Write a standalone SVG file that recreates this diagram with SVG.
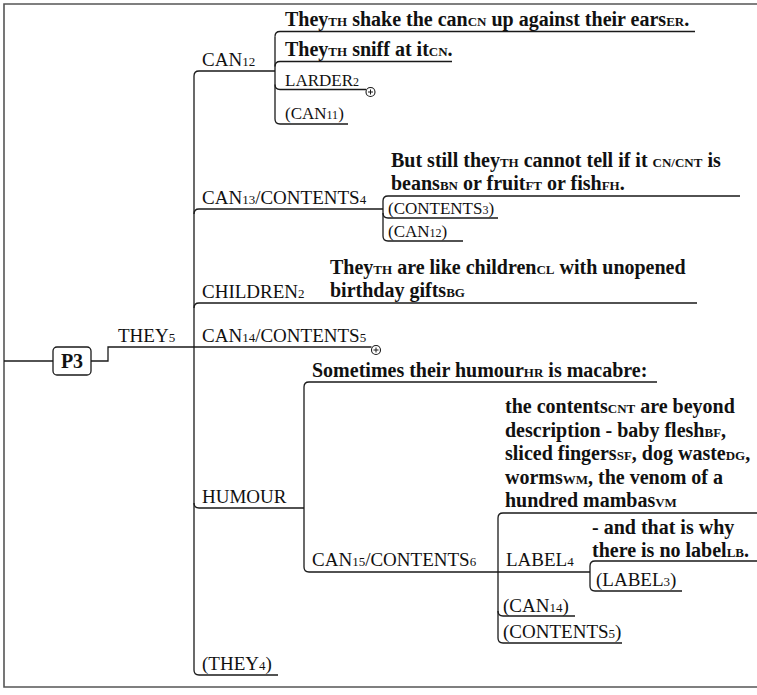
<svg xmlns="http://www.w3.org/2000/svg" width="757" height="695" viewBox="0 0 757 695">
<style>
.ln{fill:none;stroke:#1a1a1a;stroke-width:1.3}
.fr{fill:none;stroke:#555;stroke-width:1.6}
.lb{font-family:"Liberation Serif","Times New Roman",serif;font-size:19px;fill:#111}
.sm{font-size:17px}
.st{font-family:"Liberation Serif","Times New Roman",serif;font-size:20px;font-weight:bold;fill:#111}
.s{font-size:13px}
.s2{font-size:12px}
.pl{fill:#fff;stroke:#1a1a1a;stroke-width:1.1}
</style>
<rect width="757" height="695" fill="#fff"/>
<path class="fr" d="M757,4 H4 V687 H757"/>
<g id="connectors">
<path class="ln" d="M4,361 H53"/>
<path class="ln" d="M91,361 H108 V347 H194"/>
<path class="ln" d="M194,76 V670"/>
<path class="ln" d="M194,76 Q194,71 199,71 H275"/>
<path class="ln" d="M194,214 Q194,209 199,209 H383"/>
<path class="ln" d="M194,308 Q194,303 199,303 H697"/>
<path class="ln" d="M194,347 H371.5"/>
<path class="ln" d="M194,503 Q194,508 199,508 H304"/>
<path class="ln" d="M194,670 Q194,675 199,675 H278"/>
<path class="ln" d="M275,36.5 V119"/>
<path class="ln" d="M275,36.5 Q275,31.5 280,31.5 H695"/>
<path class="ln" d="M275,66.5 Q275,61.5 280,61.5 H452"/>
<path class="ln" d="M275,84.5 Q275,89.5 280,89.5 H366"/>
<path class="ln" d="M275,119 Q275,124 280,124 H348"/>
<path class="ln" d="M383,201 V236"/>
<path class="ln" d="M383,201 Q383,196 388,196 H740"/>
<path class="ln" d="M383,213 Q383,218 388,218 H498"/>
<path class="ln" d="M383,236 Q383,241 388,241 H463"/>
<path class="ln" d="M304,387 V567"/>
<path class="ln" d="M304,387 Q304,382 309,382 H657"/>
<path class="ln" d="M304,567 Q304,572 309,572 H590"/>
<path class="ln" d="M498,518 V638"/>
<path class="ln" d="M498,518 Q498,513 503,513 H757"/>
<path class="ln" d="M498,611 Q498,616 503,616 H575"/>
<path class="ln" d="M498,638 Q498,643 503,643 H622"/>
<path class="ln" d="M590,566 V586"/>
<path class="ln" d="M590,566 Q590,561 595,561 H757"/>
<path class="ln" d="M590,586 Q590,591 595,591 H682"/>
<g id="plus-larder">
<circle class="pl" cx="370.5" cy="92" r="4.5"/>
<path class="ln" d="M368,92 H373 M370.5,89.5 V94.5" style="stroke-width:1"/>
</g>
<g id="plus-can14">
<circle class="pl" cx="376" cy="350" r="4.5"/>
<path class="ln" d="M373.5,350 H378.5 M376,347.5 V352.5" style="stroke-width:1"/>
</g>
</g>
<g id="p3">
<rect x="53" y="347" width="38" height="28" rx="4" fill="#fff" stroke="#1a1a1a" stroke-width="1.3"/>
<text class="st" x="72" y="368" text-anchor="middle">P3</text>
</g>
<g id="they5"><text class="lb" x="118" y="342">THEY<tspan class="s">5</tspan></text></g>
<g id="can12"><text class="lb" x="202" y="66">CAN<tspan class="s">12</tspan></text></g>
<g id="s-shake"><text class="st" x="285" y="26">They<tspan class="s">TH</tspan> shake the can<tspan class="s">CN</tspan> up against their ears<tspan class="s">ER</tspan>.</text></g>
<g id="s-sniff"><text class="st" x="285" y="56">They<tspan class="s">TH</tspan> sniff at it<tspan class="s">CN</tspan>.</text></g>
<g id="larder2"><text class="lb sm" x="285" y="86">LARDER<tspan class="s2">2</tspan></text></g>
<g id="can11"><text class="lb sm" x="285" y="119">(CAN<tspan class="s2">11</tspan>)</text></g>
<g id="can13"><text class="lb" x="202" y="204">CAN<tspan class="s">13</tspan>/CONTENTS<tspan class="s">4</tspan></text></g>
<g id="s-beans">
<text class="st" x="391" y="167">But still they<tspan class="s">TH</tspan> cannot tell if it <tspan class="s">CN/CNT</tspan> is</text>
<text class="st" x="391" y="190">beans<tspan class="s">BN</tspan> or fruit<tspan class="s">FT</tspan> or fish<tspan class="s">FH</tspan>.</text>
</g>
<g id="contents3"><text class="lb sm" x="388" y="214">(CONTENTS<tspan class="s2">3</tspan>)</text></g>
<g id="can12b"><text class="lb sm" x="388" y="237">(CAN<tspan class="s2">12</tspan>)</text></g>
<g id="children2"><text class="lb" x="202" y="298">CHILDREN<tspan class="s">2</tspan></text></g>
<g id="s-children">
<text class="st" x="330" y="274">They<tspan class="s">TH</tspan> are like children<tspan class="s">CL</tspan> with unopened</text>
<text class="st" x="330" y="297">birthday gifts<tspan class="s">BG</tspan></text>
</g>
<g id="can14"><text class="lb" x="202" y="342">CAN<tspan class="s">14</tspan>/CONTENTS<tspan class="s">5</tspan></text></g>
<g id="humour"><text class="lb" x="202" y="503">HUMOUR</text></g>
<g id="s-macabre"><text class="st" x="312" y="377">Sometimes their humour<tspan class="s">HR</tspan> is macabre:</text></g>
<g id="can15"><text class="lb" x="312" y="566">CAN<tspan class="s">15</tspan>/CONTENTS<tspan class="s">6</tspan></text></g>
<g id="s-contents">
<text class="st" x="505" y="413">the contents<tspan class="s">CNT</tspan> are beyond</text>
<text class="st" x="505" y="436.5">description - baby flesh<tspan class="s">BF</tspan>,</text>
<text class="st" x="505" y="460">sliced fingers<tspan class="s">SF</tspan>, dog waste<tspan class="s">DG</tspan>,</text>
<text class="st" x="505" y="483.5">worms<tspan class="s">WM</tspan>, the venom of a</text>
<text class="st" x="505" y="507">hundred mambas<tspan class="s">VM</tspan></text>
</g>
<g id="label4"><text class="lb" x="506" y="566">LABEL<tspan class="s">4</tspan></text></g>
<g id="s-label">
<text class="st" x="592" y="534">- and that is why</text>
<text class="st" x="592" y="557">there is no label<tspan class="s">LB</tspan>.</text>
</g>
<g id="label3"><text class="lb" x="596" y="586">(LABEL<tspan class="s">3</tspan>)</text></g>
<g id="can14b"><text class="lb" x="503" y="612">(CAN<tspan class="s">14</tspan>)</text></g>
<g id="contents5"><text class="lb" x="503" y="638">(CONTENTS<tspan class="s">5</tspan>)</text></g>
<g id="they4"><text class="lb" x="202" y="670">(THEY<tspan class="s">4</tspan>)</text></g>
</svg>
